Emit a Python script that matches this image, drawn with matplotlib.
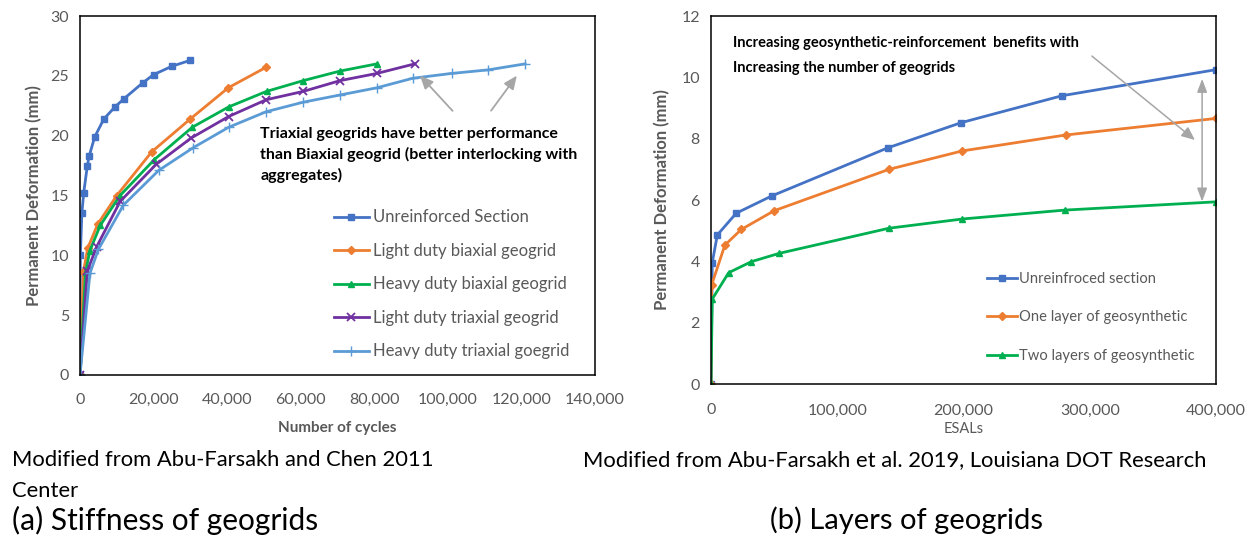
import matplotlib
matplotlib.use("Agg")
import matplotlib.pyplot as plt
from matplotlib.ticker import FuncFormatter, MultipleLocator

# ---- (a) stiffness of geogrids: permanent deformation vs number of cycles
unre_x = [0, 100, 500, 1000, 2000, 2500, 4000, 6500, 9500, 12000, 17000, 20000, 25000, 30000]
unre_y = [0, 10.0, 13.5, 15.2, 17.5, 18.3, 19.9, 21.4, 22.4, 23.1, 24.4, 25.1, 25.8, 26.3]
lbi_x = [0, 900, 2100, 4800, 10000, 19500, 30000, 40300, 50500]
lbi_y = [0, 8.6, 10.6, 12.6, 15.0, 18.65, 21.4, 24.0, 25.7]
hbi_x = [0, 1500, 2700, 5500, 10900, 20200, 30500, 40400, 50700, 60700, 70700, 80700]
hbi_y = [0, 8.6, 10.4, 12.5, 15.0, 18.0, 20.7, 22.4, 23.7, 24.6, 25.4, 26.0]
ltri_x = [0, 2000, 4500, 10900, 20700, 30200, 40400, 50600, 60700, 70700, 80700, 91000]
ltri_y = [0, 8.7, 10.7, 14.5, 17.6, 19.8, 21.6, 23.0, 23.7, 24.6, 25.2, 26.0]
htri_x = [0, 2700, 5000, 11800, 21400, 30800, 40400, 50600, 60700, 70700, 80700,
          90500, 101000, 111000, 121000]
htri_y = [0, 8.5, 10.5, 14.2, 17.1, 19.0, 20.7, 22.0, 22.8, 23.4, 24.0, 24.8, 25.2, 25.5, 26.0]
left_labels = ["Unreinforced Section", "Light duty biaxial geogrid",
               "Heavy duty biaxial geogrid", "Light duty triaxial geogrid",
               "Heavy duty triaxial goegrid"]

# ---- (b) layers of geogrids: permanent deformation vs ESALs
esal_unre = [0, 1000, 5000, 20000, 48000, 140000, 198000, 278000, 400000]
def_unre = [0, 3.96, 4.86, 5.57, 6.13, 7.7, 8.52, 9.4, 10.25]
esal_one = [0, 500, 11000, 24000, 50000, 141000, 199000, 281000, 400000]
def_one = [0, 3.23, 4.53, 5.04, 5.65, 7.0, 7.6, 8.12, 8.66]
esal_two = [0, 1000, 14000, 32000, 54000, 141000, 199000, 280000, 400000]
def_two = [0, 2.77, 3.63, 3.99, 4.26, 5.08, 5.38, 5.67, 5.94]
right_labels = ["Unreinfroced section", "One layer of geosynthetic",
                "Two layers of geosynthetic"]

BLUE, ORANGE, GREEN, PURPLE, LBLUE = "#4472C4", "#ED7D31", "#00B050", "#7030A0", "#5B9BD5"
GRAY = "#595959"
ARROW = "#A6A6A6"
plt.rcParams["font.family"] = ["Lato", "DejaVu Sans"]

W, H = 1251, 535
fig = plt.figure(figsize=(W / 100, H / 100), dpi=100)


def px_axes(x0, y0, x1, y1):
    return fig.add_axes([x0 / W, 1 - y1 / H, (x1 - x0) / W, (y1 - y0) / H])


def style(ax, pad):
    for s in ax.spines.values():
        s.set_color("black")
        s.set_linewidth(1.1)
    ax.tick_params(length=0, labelsize=11.5, labelcolor=GRAY)
    ax.tick_params(axis="x", pad=pad)
    ax.tick_params(axis="y", pad=8)
    ax.xaxis.set_major_formatter(FuncFormatter(lambda v, p: f"{v:,.0f}"))


# left panel
ax1 = px_axes(80, 16, 595, 375)
mk = dict(lw=2, ms=5)
ax1.plot(unre_x, unre_y, color=BLUE, marker="s", label=left_labels[0], **mk)
ax1.plot(lbi_x, lbi_y, color=ORANGE, marker="D", label=left_labels[1], lw=2, ms=4.5)
ax1.plot(hbi_x, hbi_y, color=GREEN, marker="^", label=left_labels[2], **mk)
ax1.plot(ltri_x, ltri_y, color=PURPLE, marker="x", label=left_labels[3], lw=2, ms=6, mew=1.3)
ax1.plot(htri_x, htri_y, color=LBLUE, marker="+", label=left_labels[4], lw=2, ms=7, mew=1)
ax1.set_xlim(0, 140000)
ax1.set_ylim(0, 30)
ax1.xaxis.set_major_locator(MultipleLocator(20000))
ax1.yaxis.set_major_locator(MultipleLocator(5))
style(ax1, 13)
ax1.set_xlabel("Number of cycles", fontsize=11, fontweight="bold", color=GRAY, labelpad=10)
ax1.set_ylabel("Permanent Deformation (mm)", fontsize=12, fontweight="bold", color=GRAY,
               labelpad=6)
ax1.legend(loc="upper left", bbox_to_anchor=(0.48, 0.48), frameon=False,
           fontsize=12, labelcolor=GRAY, handlelength=2.1, handletextpad=0.25,
           labelspacing=1.05, borderaxespad=0)
ax1.text(49000, 20.75, "Triaxial geogrids have better performance\n"
         "than Biaxial geogrid (better interlocking with\naggregates)",
         fontsize=11.5, fontweight="bold", va="top", ha="left", linespacing=1.5)
for tail, tip in [((101800, 21.9), (91900, 25.2)), ((111300, 21.9), (119200, 25.2))]:
    ax1.annotate("", xy=tip, xytext=tail,
                 arrowprops=dict(arrowstyle="-|>,head_length=0.8,head_width=0.35",
                                 color=ARROW, lw=1.3))

# right panel
ax2 = px_axes(711, 16, 1216, 384)
ax2.plot(esal_unre, def_unre, color=BLUE, marker="s", label=right_labels[0], lw=2, ms=5)
ax2.plot(esal_one, def_one, color=ORANGE, marker="D", label=right_labels[1], lw=2, ms=4)
ax2.plot(esal_two, def_two, color=GREEN, marker="^", label=right_labels[2], lw=2, ms=5)
ax2.set_xlim(0, 400000)
ax2.set_ylim(0, 12)
ax2.xaxis.set_major_locator(MultipleLocator(100000))
ax2.yaxis.set_major_locator(MultipleLocator(2))
style(ax2, 14)
ax2.set_xlabel("ESALs", fontsize=10.5, color=GRAY, labelpad=3)
ax2.set_ylabel("Permanent Deformation (mm)", fontsize=12, fontweight="bold", color=GRAY,
               labelpad=8)
ax2.legend(loc="upper left", bbox_to_anchor=(0.535, 0.32), frameon=False,
           fontsize=10.6, labelcolor=GRAY, handlelength=2.0, handletextpad=0.2,
           labelspacing=1.65, borderaxespad=0)
ax2.text(17500, 11.35, "Increasing geosynthetic-reinforcement  benefits with\n"
         "Increasing the number of geogrids", fontsize=10.5, fontweight="bold",
         va="top", ha="left", linespacing=2.0)
ax2.annotate("", xy=(385000, 7.9), xytext=(300000, 10.75),
             arrowprops=dict(arrowstyle="-|>,head_length=0.8,head_width=0.35",
                             color=ARROW, lw=1.1))
ax2.annotate("", xy=(389000, 9.95), xytext=(389000, 5.95),
             arrowprops=dict(arrowstyle="<|-|>,head_length=0.8,head_width=0.3",
                             color=ARROW, lw=1.1, shrinkA=0, shrinkB=0))


# captions
def cap(x, y, s, size):
    fig.text(x / W, 1 - y / H, s, fontsize=size, ha="left", va="center", color="black")


cap(12, 460, "Modified from Abu-Farsakh and Chen 2011", 15.8)
cap(12, 491, "Center", 15.8)
cap(12, 520, "(a) Stiffness of geogrids", 21.5)
cap(583, 460, "Modified from Abu-Farsakh et al. 2019, Louisiana DOT Research", 15.8)
cap(770, 520, "(b) Layers of geogrids", 21)

fig.savefig("out.png", dpi=100)
